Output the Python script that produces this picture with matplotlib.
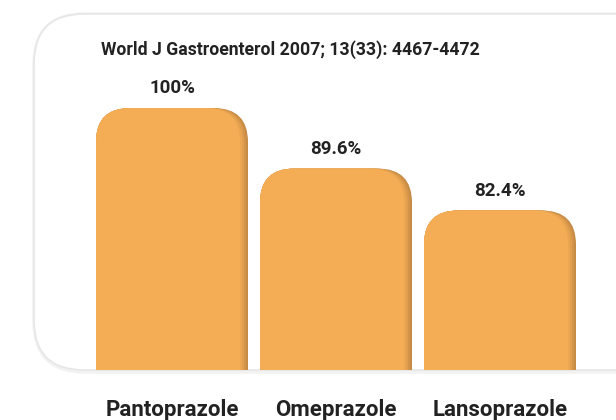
import matplotlib.pyplot as plt
from matplotlib.patches import FancyBboxPatch
import numpy as np

drugs = ['Pantoprazole', 'Omeprazole', 'Lansoprazole']
values = [100, 89.6, 82.4]
value_labels = ['100%', '89.6%', '82.4%']
title = 'World J Gastroenterol 2007; 13(33): 4467-4472'

W, H = 616, 420
orange = '#F5AD55'
shade = ['#C68B45', '#D4954A', '#E09E4E', '#EAA651']
txt_col = '#222222'
plt.rcParams['font.family'] = ['Roboto', 'DejaVu Sans']

fig = plt.figure(figsize=(W / 100, H / 100), dpi=100)
fig.patch.set_facecolor('white')

# background card (pixel coords)
bg = fig.add_axes([0, 0, 1, 1])
bg.set_xlim(0, W)
bg.set_ylim(H, 0)
bg.axis('off')
bg.add_patch(FancyBboxPatch((35, 15), 660, 356, boxstyle='round,pad=0,rounding_size=50',
                            fc='none', ec='#f2f2f2', lw=4))
bg.add_patch(FancyBboxPatch((34, 14), 660, 356, boxstyle='round,pad=0,rounding_size=50',
                            fc='white', ec='#e6e6e6', lw=1.2))

# bar axes
ax_l, ax_r, ax_t, ax_b = 60, 616, 20, 370
ax = fig.add_axes([ax_l / W, (H - ax_b) / H, (ax_r - ax_l) / W, (ax_b - ax_t) / H])
ax.set_facecolor('none')
ymin, px_per_unit = 55, 5.82
ax.set_ylim(ymin, ymin + (ax_b - ax_t) / px_per_unit)
step_px = 164
x = np.arange(len(drugs))
ax.set_xlim((ax_l - 172) / step_px, (ax_r - 172) / step_px)
bar_w = 152 / step_px

xu = 1 / step_px          # x data units per pixel
yu = 1 / px_per_unit      # y data units per pixel
radius = 34 * xu
aspect = yu / xu

bars = ax.bar(x, values, width=bar_w, color='none')
for b in bars:
    x0, w, h = b.get_x(), b.get_width(), b.get_height()
    widths = [w, w - 2 * xu, w - 4 * xu, w - 6 * xu, w - 8 * xu]
    cols = shade + [orange]
    for ww, c in zip(widths, cols):
        p = FancyBboxPatch((x0, 0), ww, h,
                           boxstyle='round,pad=0,rounding_size=%f' % radius,
                           mutation_aspect=aspect, fc=c, ec='none')
        ax.add_patch(p)
        p.set_clip_path(ax.patch)

for xi, v, lab in zip(x, values, value_labels):
    ax.annotate(lab, (xi, v), xytext=(0, 11), textcoords='offset pixels',
                ha='center', va='bottom', fontsize=13.5, fontweight='bold', color=txt_col)

ax.set_xticks(x)
ax.set_xticklabels(drugs, fontsize=16, fontweight='bold', color=txt_col)
ax.tick_params(axis='x', length=0, pad=21)
ax.set_yticks([])
for s in ax.spines.values():
    s.set_visible(False)

fig.text(290 / W, 1 - 50 / H, title, ha='center', va='center',
         fontsize=12.7, fontweight='bold', color=txt_col)

fig.savefig('out.png', dpi=100)
